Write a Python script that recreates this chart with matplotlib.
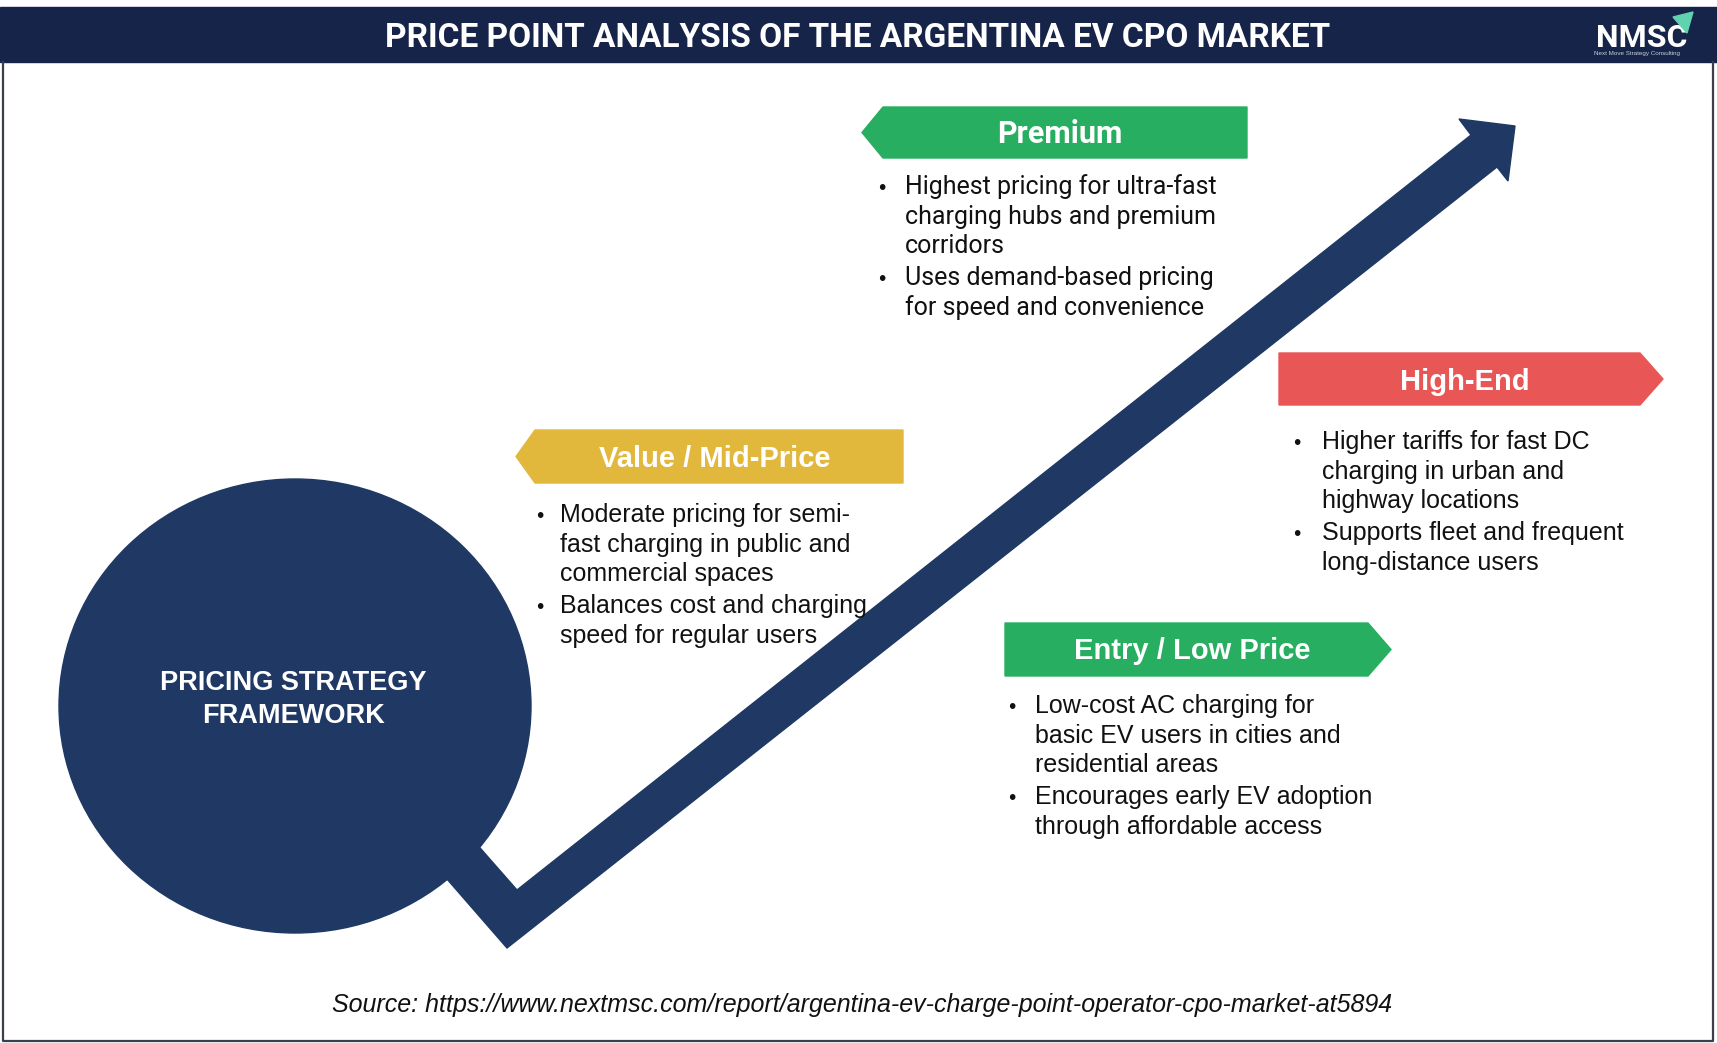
import matplotlib.pyplot as plt
from matplotlib.patches import Polygon, Ellipse, Rectangle

# ==== 1. Nội dung ====
title = "PRICE POINT ANALYSIS OF THE ARGENTINA EV CPO MARKET"
center_label = ["PRICING STRATEGY", "FRAMEWORK"]
source = "Source: https://www.nextmsc.com/report/argentina-ev-charge-point-operator-cpo-market-at5894"

tiers = ["Premium", "High-End", "Value / Mid-Price", "Entry / Low Price"]
tier_colors = ["#27AE60", "#E95656", "#E1B83C", "#27AE60"]

premium_bullets = [
    ["Highest pricing for ultra-fast", "charging hubs and premium", "corridors"],
    ["Uses demand-based pricing", "for speed and convenience"],
]
highend_bullets = [
    ["Higher tariffs for fast DC", "charging in urban and", "highway locations"],
    ["Supports fleet and frequent", "long-distance users"],
]
value_bullets = [
    ["Moderate pricing for semi-", "fast charging in public and", "commercial spaces"],
    ["Balances cost and charging", "speed for regular users"],
]
entry_bullets = [
    ["Low-cost AC charging for", "basic EV users in cities and", "residential areas"],
    ["Encourages early EV adoption", "through affordable access"],
]
tier_bullets = [premium_bullets, highend_bullets, value_bullets, entry_bullets]

# ==== 2. Bố cục (pixel) ====
W, H = 1717, 1043
NAVY_HEAD = "#17244A"
NAVY = "#1F3864"

# x0, x1, top, bottom, depth, side, text_x, text_base, bullet_x, body_x, body_base, font, head_size
layout = [
    (883, 1247, 107, 158, 21, "left", 1060, 143, 882, 905, 194, "Roboto", 22),
    (1279, 1640, 353, 405, 23, "right", 1465, 390, 1297, 1322, 449, "Liberation Sans", 21),
    (535, 903, 430, 483, 19, "left", 715, 467, 540, 560, 522, "Liberation Sans", 21),
    (1005, 1368, 623, 676, 23, "right", 1192, 659, 1012, 1035, 713, "Liberation Sans", 21),
]
line_h = 29.7
bullet_gap = 2.3

fig = plt.figure(figsize=(W / 100, H / 100), dpi=100)
ax = fig.add_axes([0, 0, 1, 1])
ax.set_xlim(0, W)
ax.set_ylim(H, 0)
ax.axis("off")

# === Khung + header ===
ax.add_patch(Rectangle((0, 7), W, 55, color=NAVY_HEAD, zorder=1))
ax.plot([2.5, 2.5, W - 4, W - 4], [62, H - 2, H - 2, 62], color="#3a3f4a", lw=1.6, zorder=1)
ax.text(858, 47, title, color="white", fontsize=24, fontweight="bold",
        family="Roboto", ha="center", va="baseline", zorder=3)

# logo NMSC
ax.text(1642, 47, "NMSC", color="white", fontsize=23, fontweight="bold",
        family="Roboto", ha="center", va="baseline", zorder=3)
ax.text(1637, 54, "Next Move Strategy Consulting", color="#c8cedb", fontsize=4.5,
        family="Liberation Sans", ha="center", va="center", zorder=3)
ax.add_patch(Polygon([(1693, 12), (1673, 17), (1687, 33)], closed=True,
                     color="#5FD3B0", zorder=3))

# === Vòng tròn + mũi tên ===
ax.add_patch(Ellipse((295, 706), 472, 454, color=NAVY, zorder=2))
arrow_pts = [(413, 840), (445, 808), (517, 890), (1471, 135), (1459, 119),
             (1515, 126), (1508, 181), (1497, 167), (507, 948)]
ax.add_patch(Polygon(arrow_pts, closed=True, color=NAVY, zorder=2))
for i, line in enumerate(center_label):
    ax.text(293, 690 + i * 33, line, color="white", fontsize=19.5, fontweight="bold",
            family="Liberation Sans", ha="center", va="baseline", zorder=3)

# === Các nhãn giá ===
for name, color, bullets, lay in zip(tiers, tier_colors, tier_bullets, layout):
    x0, x1, top, bot, depth, side, tx, tb, bx, body_x, body_b, font, hs = lay
    mid = (top + bot) / 2
    if side == "left":
        pts = [(x0 - depth, mid), (x0, top), (x1, top), (x1, bot), (x0, bot)]
    else:
        pts = [(x0, top), (x1, top), (x1 + depth, mid), (x1, bot), (x0, bot)]
    ax.add_patch(Polygon(pts, closed=True, color=color, zorder=2))
    ax.text(tx, tb, name, color="white", fontsize=hs, fontweight="bold",
            family=font, ha="center", va="baseline", zorder=3)

    y = body_b
    for k, lines in enumerate(bullets):
        ax.text(bx, y, "\u2022", color="#111111", fontsize=15, family="Liberation Sans",
                ha="center", va="baseline", zorder=3)
        for line in lines:
            ax.text(body_x, y, line, color="#111111", fontsize=18, family=font,
                    ha="left", va="baseline", zorder=3)
            y += line_h
        y += bullet_gap

# === Nguồn ===
ax.text(332, 1012, source, color="#111111", fontsize=18, style="italic",
        family="Liberation Sans", ha="left", va="baseline", zorder=3)

plt.savefig("out.png", dpi=100)
plt.close()
